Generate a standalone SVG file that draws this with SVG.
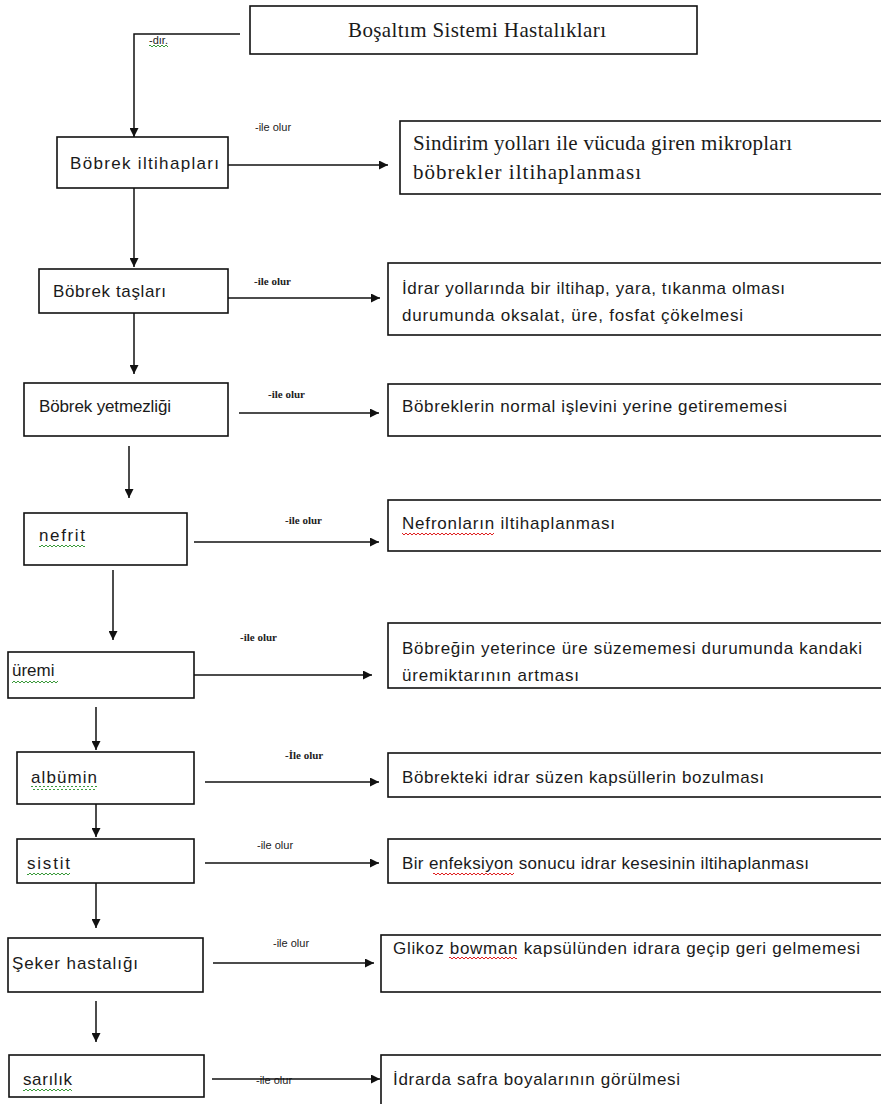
<svg xmlns="http://www.w3.org/2000/svg" width="881" height="1104" viewBox="0 0 881 1104">
<style>
.box{fill:#fff;stroke:#111;stroke-width:1.6}
.s{font-family:"Liberation Sans",Arial,sans-serif;font-size:17px;fill:#1a1a1a}
.t{font-family:"Liberation Serif","Times New Roman",serif;font-size:21px;fill:#1a1a1a}
.ls{font-family:"Liberation Sans",Arial,sans-serif;font-size:11px;fill:#222}
.lt{font-family:"Liberation Serif","Times New Roman",serif;font-size:11px;font-weight:bold;fill:#222}
.c{fill:none;stroke:#111;stroke-width:1.5}
</style>
<defs>
<marker id="ah" viewBox="0 0 10 10" refX="10" refY="5" markerWidth="9" markerHeight="9" markerUnits="userSpaceOnUse" orient="auto"><path d="M0,0 L10,5 L0,10 z" fill="#111"/></marker>
<pattern id="wg" width="4" height="4" patternUnits="userSpaceOnUse"><path d="M0,3 L2,1 L4,3" fill="none" stroke="#3a9a3a" stroke-width="1"/></pattern>
<pattern id="wr" width="4" height="4" patternUnits="userSpaceOnUse"><path d="M0,3 L2,1 L4,3" fill="none" stroke="#e02020" stroke-width="1"/></pattern>
</defs>
<rect width="881" height="1104" fill="#fff"/>

<g id="connectors">
<polyline class="c" points="240,34 134,34 134,137" marker-end="url(#ah)"/>
<line class="c" x1="134" y1="188" x2="134" y2="267" marker-end="url(#ah)"/>
<line class="c" x1="134" y1="313" x2="134" y2="374" marker-end="url(#ah)"/>
<line class="c" x1="129" y1="446" x2="129" y2="498" marker-end="url(#ah)"/>
<line class="c" x1="113" y1="570" x2="113" y2="640" marker-end="url(#ah)"/>
<line class="c" x1="96" y1="707" x2="96" y2="750" marker-end="url(#ah)"/>
<line class="c" x1="96" y1="804" x2="96" y2="837" marker-end="url(#ah)"/>
<line class="c" x1="96" y1="883" x2="96" y2="928" marker-end="url(#ah)"/>
<line class="c" x1="96" y1="1001" x2="96" y2="1042" marker-end="url(#ah)"/>

<line class="c" x1="228" y1="165" x2="388" y2="165" marker-end="url(#ah)"/>
<line class="c" x1="228" y1="298" x2="380" y2="298" marker-end="url(#ah)"/>
<line class="c" x1="239" y1="413" x2="379" y2="413" marker-end="url(#ah)"/>
<line class="c" x1="194" y1="542" x2="379" y2="542" marker-end="url(#ah)"/>
<line class="c" x1="194" y1="675" x2="372" y2="675" marker-end="url(#ah)"/>
<line class="c" x1="205" y1="782" x2="379" y2="782" marker-end="url(#ah)"/>
<line class="c" x1="205" y1="863" x2="379" y2="863" marker-end="url(#ah)"/>
<line class="c" x1="213" y1="963" x2="374" y2="963" marker-end="url(#ah)"/>

<text class="ls" x="149" y="44" font-size="9">-dır.</text>
<rect x="149" y="44" width="19" height="4" fill="url(#wg)"/>
<text class="ls" x="255" y="131">-ile olur</text>
<text class="lt" x="254" y="285">-ile olur</text>
<text class="lt" x="268" y="398">-ile olur</text>
<text class="lt" x="285" y="524">-ile olur</text>
<text class="lt" x="240" y="641">-ile olur</text>
<text class="lt" x="285" y="759">-İle olur</text>
<text class="ls" x="257" y="849">-ile olur</text>
<text class="ls" x="273" y="947">-ile olur</text>
<text class="ls" x="256" y="1084">-ile olur</text>
<line class="c" x1="212" y1="1079" x2="380" y2="1079" marker-end="url(#ah)"/>
</g>

<g id="title">
<rect class="box" x="250" y="6" width="447" height="48"/>
<text class="t" x="348" y="37" textLength="258">Boşaltım  Sistemi  Hastalıkları</text>
</g>

<g id="n1">
<rect class="box" x="57" y="137" width="171" height="51"/>
<text class="s" x="70" y="169" textLength="149">Böbrek iltihapları</text>
</g>
<g id="d1">
<rect class="box" x="400" y="121" width="490" height="73"/>
<text class="t" x="413" y="150" textLength="379">Sindirim yolları ile vücuda giren mikropları</text>
<text class="t" x="413" y="179" textLength="228">böbrekler iltihaplanması</text>
</g>

<g id="n2">
<rect class="box" x="39" y="269" width="189" height="44"/>
<text class="s" x="53" y="297" textLength="113">Böbrek taşları</text>
</g>
<g id="d2">
<rect class="box" x="388" y="263" width="500" height="72"/>
<text class="s" x="402" y="294" textLength="383">İdrar yollarında bir iltihap, yara, tıkanma olması</text>
<text class="s" x="402" y="321" textLength="341">durumunda oksalat, üre, fosfat  çökelmesi</text>
</g>

<g id="n3">
<rect class="box" x="24" y="383" width="204" height="53"/>
<text class="s" x="39" y="412" textLength="132">Böbrek yetmezliği</text>
</g>
<g id="d3">
<rect class="box" x="388" y="384" width="500" height="52"/>
<text class="s" x="402" y="412" textLength="385">Böbreklerin normal işlevini yerine getirememesi</text>
</g>

<g id="n4">
<rect class="box" x="24" y="513" width="163" height="52"/>
<text class="s" x="39" y="541" textLength="46">nefrit</text>
<rect x="39" y="544" width="46" height="4" fill="url(#wg)"/>
</g>
<g id="d4">
<rect class="box" x="388" y="500" width="500" height="51"/>
<text class="s" x="402" y="529" textLength="213">Nefronların iltihaplanması</text>
<rect x="402" y="532" width="92" height="4" fill="url(#wr)"/>
</g>

<g id="n5">
<rect class="box" x="8" y="652" width="186" height="46"/>
<text class="s" x="12" y="676">üremi</text>
<rect x="12" y="680" width="46" height="4" fill="url(#wg)"/>
</g>
<g id="d5">
<rect class="box" x="388" y="623" width="500" height="65"/>
<text class="s" x="402" y="654" textLength="460">Böbreğin yeterince üre süzememesi durumunda kandaki</text>
<text class="s" x="402" y="681" textLength="177">üremiktarının artması</text>
</g>

<g id="n6">
<rect class="box" x="17" y="752" width="177" height="52"/>
<text class="s" x="31" y="783" textLength="66">albümin</text>
<rect x="31" y="786" width="66" height="4" fill="url(#wg)"/>
</g>
<g id="d6">
<rect class="box" x="388" y="753" width="500" height="44"/>
<text class="s" x="402" y="783" textLength="362">Böbrekteki idrar süzen kapsüllerin bozulması</text>
</g>

<g id="n7">
<rect class="box" x="17" y="839" width="177" height="44"/>
<text class="s" x="27" y="869" textLength="43">sistit</text>
<rect x="27" y="872" width="43" height="4" fill="url(#wg)"/>
</g>
<g id="d7">
<rect class="box" x="388" y="839" width="500" height="44"/>
<text class="s" x="402" y="869" textLength="407">Bir enfeksiyon sonucu idrar kesesinin iltihaplanması</text>
<rect x="433" y="872" width="81" height="4" fill="url(#wr)"/>
</g>

<g id="n8">
<rect class="box" x="8" y="938" width="195" height="54"/>
<text class="s" x="12" y="969" textLength="126">Şeker hastalığı</text>
</g>
<g id="d8">
<rect class="box" x="381" y="935" width="510" height="57"/>
<text class="s" x="393" y="954" textLength="467">Glikoz bowman kapsülünden idrara geçip geri gelmemesi</text>
<rect x="449" y="956" width="68" height="4" fill="url(#wr)"/>
</g>

<g id="n9">
<rect class="box" x="9" y="1055" width="195" height="42"/>
<text class="s" x="23" y="1085" textLength="49">sarılık</text>
<rect x="23" y="1088" width="49" height="4" fill="url(#wg)"/>
</g>
<g id="d9">
<rect class="box" x="381" y="1055" width="510" height="60"/>
<text class="s" x="393" y="1085" textLength="287">İdrarda safra  boyalarının görülmesi</text>
</g>
</svg>
